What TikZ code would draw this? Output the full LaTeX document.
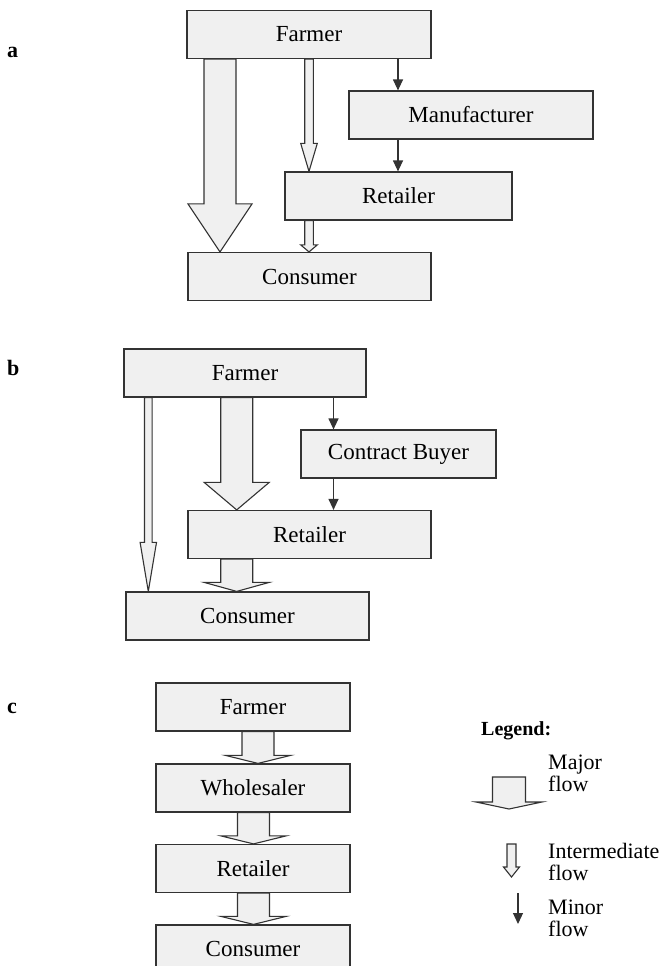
\documentclass[tikz,border=0pt]{standalone}
\usepackage{fontspec}
\setmainfont{Liberation Serif}
\usetikzlibrary{arrows.meta,backgrounds,calc}
\definecolor{boxfill}{HTML}{F0F0F0}
\definecolor{linec}{HTML}{333333}
\tikzset{
  flowbox/.style={draw=linec, fill=boxfill, line width=1.2pt, inner sep=0pt,
    minimum height=48pt, font=\fontsize{23}{25}\selectfont},
  blockarrow/.style={draw=linec, fill=boxfill, line width=1.1pt, line join=miter},
  minorflow/.style={draw=linec, line width=1.2pt, -{Triangle[length=11pt,width=10pt]}},
  panellabel/.style={font=\bfseries\fontsize{22}{24}\selectfont, inner sep=0pt, anchor=base west},
  legendtext/.style={font=\fontsize{22}{22}\selectfont, align=left, inner sep=0pt, anchor=north west}
}
% #1 start point, #2 tip point, #3 x, #4 shaft half width, #5 head half width, #6 head length
\newcommand\flowarrow[6]{%
  \path[blockarrow] let \p1=(#1), \p2=(#2) in
    ({#3pt-#4pt},\y1) -- ({#3pt-#4pt},{\y2+#6pt}) -- ({#3pt-#5pt},{\y2+#6pt})
    -- (#3pt,\y2) -- ({#3pt+#5pt},{\y2+#6pt}) -- ({#3pt+#4pt},{\y2+#6pt})
    -- ({#3pt+#4pt},\y1) -- cycle;}
\begin{document}
\begin{tikzpicture}[x=1pt,y=-1pt]
\useasboundingbox (0,0) rectangle (666,966);
% ---------- panel a ----------
\node[panellabel] (la) at (7,57) {a};
\node[flowbox, minimum width=244pt] (Fa) at (309,34.5) {Farmer};
\node[flowbox, minimum width=244pt] (Ma) at (471,115) {Manufacturer};
\node[flowbox, minimum width=227pt] (Ra) at (398.5,196) {Retailer};
\node[flowbox, minimum width=243pt] (Ca) at (309.5,276.5) {Consumer};
\begin{scope}[on background layer]
\flowarrow{Fa.south}{Ca.north}{220}{16}{32}{48}
\flowarrow{Fa.south}{Ra.north}{309}{4.3}{8.3}{28}
\flowarrow{Ra.south}{Ca.north}{309}{4.3}{8.3}{7}
\end{scope}
\draw[minorflow] (Fa.south -| 398,0) -- (Ma.north -| 398,0);
\draw[minorflow] (Ma.south -| 398,0) -- (Ra.north -| 398,0);
% ---------- panel b ----------
\node[panellabel] (lb) at (7,375) {b};
\node[flowbox, minimum width=242pt] (Fb) at (245,373) {Farmer};
\node[flowbox, minimum width=195pt] (CBb) at (398.5,454) {Contract Buyer};
\node[flowbox, minimum width=243pt] (Rb) at (309.5,534.5) {Retailer};
\node[flowbox, minimum width=243pt] (Cb) at (247.5,616) {Consumer};
\begin{scope}[on background layer]
\flowarrow{Fb.south}{Cb.north}{148.3}{3.8}{8.2}{49}
\flowarrow{Fb.south}{Rb.north}{236.7}{16}{32.5}{27.5}
\flowarrow{Rb.south}{Cb.north}{236.7}{16}{32.5}{9}
\end{scope}
\draw[minorflow] (Fb.south -| 333.5,0) -- (CBb.north -| 333.5,0);
\draw[minorflow] (CBb.south -| 333.5,0) -- (Rb.north -| 333.5,0);
% ---------- panel c ----------
\node[panellabel] (lc) at (7,713) {c};
\node[flowbox, minimum width=194pt] (Fc) at (253,707) {Farmer};
\node[flowbox, minimum width=194pt] (Wc) at (253,788) {Wholesaler};
\node[flowbox, minimum width=194pt] (Rc) at (253,868.5) {Retailer};
\node[flowbox, minimum width=194pt] (Cc) at (253,949) {Consumer};
\begin{scope}[on background layer]
\flowarrow{Fc.south}{Wc.north}{258}{16}{32.5}{8}
\flowarrow{Wc.south}{Rc.north}{253.5}{16}{32.5}{8}
\flowarrow{Rc.south}{Cc.north}{253.5}{16}{32.5}{8}
\end{scope}
% ---------- legend ----------
\node[inner sep=0pt, anchor=base west, font=\bfseries\fontsize{20}{22}\selectfont] (lgtitle) at (481,735) {Legend:};
\coordinate (lgMajTop) at (509,777);
\coordinate (lgMajTip) at (509,809);
\flowarrow{lgMajTop}{lgMajTip}{509}{16.5}{33}{7}
\node[legendtext] (lgMaj) at (548,755) {Major\\flow};
\coordinate (lgIntTop) at (511.5,844);
\coordinate (lgIntTip) at (511.5,877);
\flowarrow{lgIntTop}{lgIntTip}{511.5}{4.5}{8}{10}
\node[legendtext] (lgInt) at (548,843) {Intermediate\\flow};
\coordinate (lgMinTop) at (518,893);
\coordinate (lgMinTip) at (518,924);
\draw[minorflow] (lgMinTop) -- (lgMinTip);
\node[legendtext] (lgMin) at (548,900) {Minor\\flow};
\end{tikzpicture}
\end{document}
